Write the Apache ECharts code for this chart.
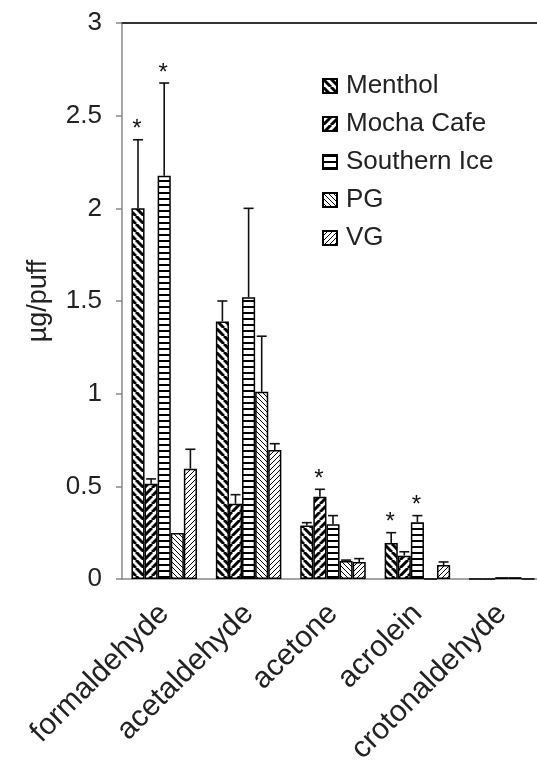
<!DOCTYPE html>
<html lang="en">
<head>
    <meta charset="UTF-8">
    <title>µg/puff</title>
    <script src="https://cdn.jsdelivr.net/npm/echarts@6/dist/echarts.min.js"></script>
    <style>
        html, body { margin: 0; padding: 0; background: #fff; }
    </style>
</head>
<body>
    <div id="main" style="width: 537px;height:762px;"></div>
</body>
    <script type="text/javascript">
        // data
        var categories = ['formaldehyde', 'acetaldehyde', 'acetone', 'acrolein', 'crotonaldehyde'];
        var seriesNames = ['Menthol', 'Mocha Cafe', 'Southern Ice', 'PG', 'VG'];
        var yTicks = [0, 0.5, 1, 1.5, 2, 2.5, 3];

        var menthol     = [2.00, 1.39, 0.288, 0.194, 0];
        var mochaCafe   = [0.514, 0.406, 0.444, 0.126, 0];
        var southernIce = [2.176, 1.52, 0.295, 0.306, 0.01];
        var pg          = [0.248, 1.01, 0.097, 0, 0.01];
        var vg          = [0.595, 0.696, 0.092, 0.075, 0];

        // upper error (sd)
        var mentholErr     = [0.37, 0.11, 0.016, 0.056, 0];
        var mochaCafeErr   = [0.026, 0.049, 0.04, 0.021, 0];
        var southernIceErr = [0.50, 0.48, 0.047, 0.036, 0];
        var pgErr          = [0, 0.30, 0.005, 0, 0];
        var vgErr          = [0.105, 0.034, 0.018, 0.017, 0];

        // significance asterisks
        var mentholStar     = [1, 0, 0, 1, 0];
        var mochaCafeStar   = [0, 0, 1, 0, 0];
        var southernIceStar = [1, 0, 0, 1, 0];
        var pgStar          = [0, 0, 0, 0, 0];
        var vgStar          = [0, 0, 0, 0, 0];

        var values = [menthol, mochaCafe, southernIce, pg, vg];
        var errors = [mentholErr, mochaCafeErr, southernIceErr, pgErr, vgErr];
        var stars = [mentholStar, mochaCafeStar, southernIceStar, pgStar, vgStar];

        var GAP = 0.224;
        var FONT = 'Liberation Sans';

        // hatch patterns
        function diag(size, width, dir) {
            var c = document.createElement('canvas');
            c.width = c.height = size;
            var ctx = c.getContext('2d');
            ctx.fillStyle = '#fff';
            ctx.fillRect(0, 0, size, size);
            ctx.strokeStyle = '#000';
            ctx.lineWidth = width;
            ctx.beginPath();
            for (var k = -1; k <= 1; k++) {
                if (dir === '\\') {
                    ctx.moveTo(k * size, 0); ctx.lineTo(k * size + size, size);
                } else {
                    ctx.moveTo(k * size + size, 0); ctx.lineTo(k * size, size);
                }
            }
            ctx.stroke();
            return c;
        }
        function horiz(size, width) {
            var c = document.createElement('canvas');
            c.width = 4; c.height = size;
            var ctx = c.getContext('2d');
            ctx.fillStyle = '#fff';
            ctx.fillRect(0, 0, 4, size);
            ctx.fillStyle = '#000';
            ctx.fillRect(0, 0, 4, width);
            return c;
        }
        var patterns = [
            diag(8, 3, '\\'),
            diag(8, 3, '/'),
            horiz(6, 2),
            diag(5, 1, '\\'),
            diag(5, 1, '/')
        ];

        var myChart = echarts.init(document.getElementById('main'));

        var series = seriesNames.map(function (name, i) {
            return {
                name: name,
                type: 'bar',
                barGap: 0,
                barCategoryGap: (GAP * 100) + '%',
                itemStyle: {
                    color: { image: patterns[i], repeat: 'repeat' },
                    borderColor: '#000',
                    borderWidth: 1.5
                },
                emphasis: { disabled: true },
                data: values[i]
            };
        });

        var errData = [];
        for (var s = 0; s < seriesNames.length; s++) {
            for (var c = 0; c < categories.length; c++) {
                errData.push([c, s, values[s][c], errors[s][c], stars[s][c]]);
            }
        }

        series.push({
            type: 'custom',
            z: 10,
            silent: true,
            encode: { x: 0, y: 2 },
            renderItem: function (params, api) {
                var cat = api.value(0), si = api.value(1), v = api.value(2), e = api.value(3), star = api.value(4);
                var band = api.size([1, 0])[0];
                var bw = band * (1 - GAP) / 5;
                var cx = api.coord([cat, 0])[0] + (si - 2) * bw;
                var yV = api.coord([cat, v])[1];
                var yT = api.coord([cat, v + e])[1];
                var children = [];
                var st = { stroke: '#111', lineWidth: 1.6 };
                if (e > 0) {
                    children.push({ type: 'line', shape: { x1: cx, y1: yV, x2: cx, y2: yT }, style: st });
                    children.push({ type: 'line', shape: { x1: cx - 5, y1: yT, x2: cx + 5, y2: yT }, style: st });
                }
                if (star) {
                    children.push({
                        type: 'text',
                        style: {
                            text: '*', x: cx - 1, y: yT - 10,
                            fontSize: 24, fontFamily: FONT, fill: '#111',
                            align: 'center', verticalAlign: 'middle'
                        }
                    });
                }
                return { type: 'group', children: children };
            },
            data: errData
        });

        var option = {
            animation: false,
            textStyle: { fontFamily: FONT },
            grid: { left: 122, right: -7, top: 23, bottom: 183, outerBoundsMode: 'none', containLabel: false },
            legend: {
                orient: 'vertical',
                left: 317,
                top: 68,
                itemWidth: 14,
                itemHeight: 14,
                itemGap: 12,
                icon: 'rect',
                data: seriesNames,
                textStyle: { fontSize: 26, color: '#222', fontFamily: FONT, padding: [0, 0, 0, 4] }
            },
            xAxis: [{
                type: 'category',
                data: categories,
                axisLine: { lineStyle: { color: '#888', width: 1.5 } },
                axisTick: { length: 9, lineStyle: { color: '#888', width: 1.5 } },
                axisLabel: {
                    rotate: 45, margin: 30, fontSize: 30, color: '#222', fontFamily: FONT, interval: 0
                }
            }, {
                type: 'category',
                position: 'top',
                data: categories,
                axisLine: { lineStyle: { color: '#333', width: 2 } },
                axisTick: { show: false },
                axisLabel: { show: false }
            }],
            yAxis: {
                type: 'value',
                min: yTicks[0],
                max: yTicks[yTicks.length - 1],
                interval: yTicks[1] - yTicks[0],
                name: 'µg/puff',
                nameLocation: 'middle',
                nameGap: 70,
                nameTextStyle: { fontSize: 27, color: '#222', fontFamily: FONT },
                axisLine: { show: true, lineStyle: { color: '#888', width: 1.5 } },
                axisTick: { show: true, length: 6, lineStyle: { color: '#888', width: 1.5 } },
                axisLabel: { margin: 20, fontSize: 26, color: '#222', fontFamily: FONT },
                splitLine: { show: false }
            },
            series: series
        };

        myChart.setOption(option);
    </script>
</html>
